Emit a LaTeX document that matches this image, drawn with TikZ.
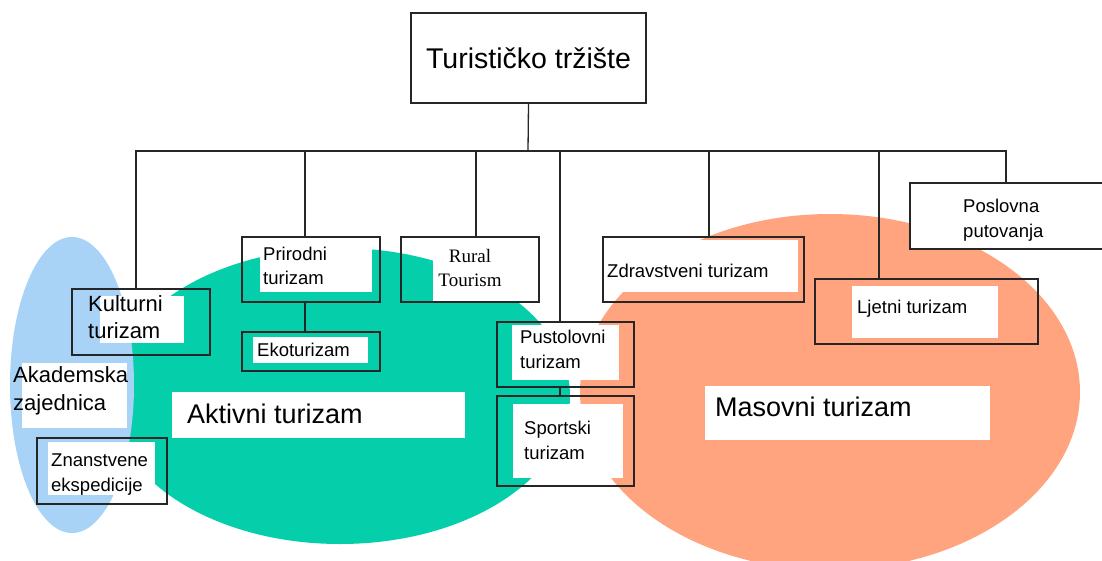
\documentclass[tikz,border=0pt]{standalone}
\usepackage{fontspec}
\setmainfont{Liberation Sans}
\newfontfamily\ruralfont{Liberation Serif}
\usepackage{xcolor}
\definecolor{akablue}{HTML}{A8D3F7}
\definecolor{aktteal}{HTML}{05CFAB}
\definecolor{masorange}{HTML}{FFA47E}

\tikzset{
  box/.style={draw=black!85, line width=1.3pt, inner sep=0pt},
  conn/.style={draw=black!85, line width=1.3pt},
  txt/.style={anchor=west, align=left, inner sep=0pt},
}
\newcommand{\fsmall}{\fontsize{18.5}{24.5}\selectfont}
\newcommand{\fmid}{\fontsize{22}{27.5}\selectfont}
\newcommand{\fbig}{\fontsize{27}{32}\selectfont}

\begin{document}
\begin{tikzpicture}[x=1pt,y=-1pt]
\useasboundingbox (0,0) rectangle (1102,560);
% coloured areas
\fill[aktteal] (340,396) ellipse [x radius=230pt, y radius=148pt];
\fill[akablue] (72,385) ellipse [x radius=62pt, y radius=148pt];
\fill[masorange] (830,392) ellipse [x radius=250pt, y radius=178pt];
%
\node[box, minimum width=235, minimum height=90, font=\fontsize{28.5}{34}\selectfont] (title) at (528.5,58) {Turističko tržište};
\coordinate (bus) at (528,151);
%
\node[box, minimum width=138, minimum height=66] (kult) at (141,322) {};
\node[box, minimum width=138, minimum height=65] (prir) at (311,269.5) {};
\node[box, minimum width=138, minimum height=39] (eko) at (311,351.5) {};
\node[box, minimum width=138, minimum height=65] (rural) at (470,269.5) {};
\node[box, minimum width=137, minimum height=65] (pust) at (565.5,354.5) {};
\node[box, minimum width=137, minimum height=90] (spor) at (565.5,441) {};
\node[box, minimum width=201, minimum height=65] (zdr) at (703.5,269.5) {};
\node[box, minimum width=223, minimum height=65] (ljet) at (926.5,311.5) {};
\node[box, fill=white, minimum width=200, minimum height=66] (posl) at (1010,216) {};
\node[box, minimum width=130, minimum height=66] (zan) at (102,471) {};
%
\draw[conn] (title.south) -- (bus);
\foreach \n/\s in {kult/-5, prir/-6, rural/6, pust/-5.5, zdr/5.5, ljet/-47.5, posl/-4}
  \draw[conn] ([xshift=\s]\n.north) |- (bus);
\draw[conn] ([xshift=-6]prir.south) -- ([xshift=-6]eko.north);
\draw[conn] ([xshift=-5.5]pust.south) -- ([xshift=-5.5]spor.north);
%
% white patches behind the texts
\fill[white] (100,296) rectangle (184,343);
\fill[white] (22,363) rectangle (127,428);
\fill[white] (48,442) rectangle (155,495);
\fill[white] (172,392) rectangle (465,438);
\fill[white] (260,247) rectangle (372,292);
\fill[white] (253,337) rectangle (368,363);
\fill[white] (433,239) rectangle (537,301);
\fill[white] (512,325) rectangle (619,380);
\fill[white] (513,404) rectangle (623,478);
\fill[white] (605,240) rectangle (798,292);
\fill[white] (852,286) rectangle (998,338);
\fill[white] (705,386) rectangle (990,440);
%
\node[txt, font=\fmid] (kultT) at (88,317) {Kulturni\\turizam};
\node[txt, font=\fmid] (akaT) at (13,391) {Akademska\\zajednica};
\node[txt, font=\fsmall] (zanT) at (51,474.5) {Znanstvene\\ekspedicije};
\node[txt, font=\fbig] (aktT) at (187,414) {Aktivni turizam};
\node[txt, font=\fsmall] (prirT) at (263,266) {Prirodni\\turizam};
\node[txt, font=\fsmall] (ekoT) at (257,349.5) {Ekoturizam};
\node[align=center, inner sep=0pt, font=\ruralfont\fontsize{19}{24}\selectfont] (ruralT) at (470,268) {Rural\\Tourism};
\node[txt, font=\fsmall] (pustT) at (520,349.5) {Pustolovni\\turizam};
\node[txt, font=\fsmall] (sporT) at (524,440.5) {Sportski\\turizam};
\node[txt, font=\fsmall] (zdrT) at (607,271) {Zdravstveni turizam};
\node[txt, font=\fsmall] (ljetT) at (857,309) {Ljetni turizam};
\node[txt, font=\fbig] (masT) at (715,407) {Masovni turizam};
\node[txt, font=\fsmall] (poslT) at (963,220) {Poslovna\\putovanja};
\end{tikzpicture}
\end{document}
